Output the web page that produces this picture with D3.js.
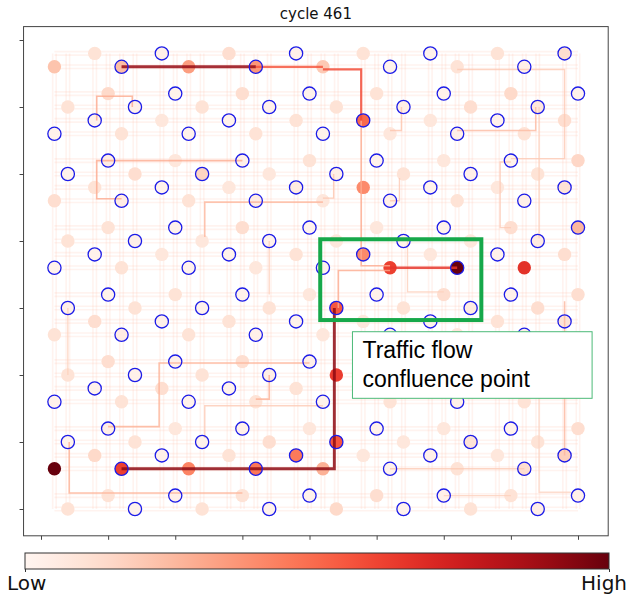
<!DOCTYPE html>
<html><head><meta charset="utf-8">
<script src="https://cdn.jsdelivr.net/npm/d3@7"></script>
<style>
  body { margin: 0; background: #fff; }
  svg { display: block; }
</style>
</head><body>
<svg id="chart" width="627" height="596"></svg>
<script>
// ---- data -------------------------------------------------------------
const chartTitle = "cycle 461";
const lowLabel = "Low";
const highLabel = "High";
const noteLines = ["Traffic flow", "confluence point"];

// grid rows that carry intersections, and the first column used on each row
const nodeRows     = [1, 2, 4, 5, 6, 7, 9, 10, 11, 12, 14, 15, 16, 17, 19, 20, 21, 22, 24, 25, 26, 27, 29, 30, 31, 32, 34, 35];
const nodeColStart = [4, 1, 5, 2, 4, 1, 5, 2, 4, 1, 5, 2, 4, 1, 5, 2, 4, 1, 5, 2, 4, 1, 5, 2, 4, 1, 5, 2];
const nodeColStep = 5;

// 1 = station (ring), 0 = plain intersection
const ringMask = [
  "01010101", "01010101", "01010101", "01010101",
  "10101010", "10101010", "10101010", "10101010",
  "01010101", "01010101", "01010101", "01010101",
  "10101010", "10101010", "10101010", "10101010",
  "01010101", "01010101", "01010101", "01010101",
  "10101010", "10101010", "10101010", "10101010",
  "01010101", "01010101", "01010101", "01010101"
];

// normalised load at each intersection (0 = low, 1 = high)
const nodeLoad = [
  [0.10, 0.03, 0.12, 0.03, 0.10, 0.02, 0.10, 0.12],
  [0.22, 0.24, 0.34, 0.36, 0.20, 0.02, 0.10, 0.03],
  [0.14, 0.02, 0.12, 0.02, 0.10, 0.02, 0.14, 0.02],
  [0.10, 0.03, 0.10, 0.03, 0.10, 0.04, 0.12, 0.08],
  [0.02, 0.08, 0.02, 0.10, 0.50, 0.08, 0.02, 0.12],
  [0.02, 0.10, 0.02, 0.10, 0.02, 0.08, 0.03, 0.10],
  [0.05, 0.08, 0.03, 0.10, 0.02, 0.08, 0.02, 0.15],
  [0.02, 0.12, 0.16, 0.08, 0.04, 0.10, 0.03, 0.10],
  [0.10, 0.02, 0.08, 0.06, 0.40, 0.02, 0.08, 0.10],
  [0.12, 0.05, 0.10, 0.05, 0.08, 0.03, 0.10, 0.03],
  [0.10, 0.02, 0.12, 0.02, 0.08, 0.02, 0.12, 0.26],
  [0.10, 0.03, 0.08, 0.02, 0.08, 0.02, 0.08, 0.06],
  [0.02, 0.08, 0.02, 0.10, 0.40, 0.08, 0.02, 0.12],
  [0.02, 0.10, 0.02, 0.08, 0.02, 0.62, 1.00, 0.66],
  [0.02, 0.10, 0.02, 0.08, 0.02, 0.12, 0.02, 0.12],
  [0.03, 0.10, 0.02, 0.10, 0.55, 0.10, 0.06, 0.12],
  [0.12, 0.03, 0.10, 0.02, 0.08, 0.02, 0.10, 0.10],
  [0.10, 0.05, 0.10, 0.03, 0.08, 0.02, 0.08, 0.03],
  [0.12, 0.03, 0.12, 0.03, 0.08, 0.02, 0.10, 0.03],
  [0.10, 0.03, 0.10, 0.04, 0.63, 0.02, 0.08, 0.08],
  [0.02, 0.12, 0.02, 0.10, 0.02, 0.08, 0.02, 0.10],
  [0.02, 0.10, 0.02, 0.10, 0.02, 0.10, 0.03, 0.10],
  [0.04, 0.08, 0.03, 0.08, 0.02, 0.08, 0.02, 0.12],
  [0.02, 0.10, 0.02, 0.12, 0.55, 0.08, 0.10, 0.10],
  [0.14, 0.03, 0.10, 0.45, 0.08, 0.03, 0.08, 0.18],
  [1.00, 0.62, 0.42, 0.46, 0.28, 0.02, 0.10, 0.12],
  [0.10, 0.03, 0.10, 0.02, 0.12, 0.03, 0.10, 0.03],
  [0.10, 0.02, 0.10, 0.02, 0.14, 0.02, 0.10, 0.04]
];

// vehicle routes: waypoints in grid units [col, row] and their load
const routePaths = [
  [[6, 2], [16, 2]],
  [[16, 2], [21, 2]],
  [[21, 2.2], [23.85, 2.2], [23.85, 6]],
  [[23.85, 6], [23.85, 16.85], [26, 16.85]],
  [[26, 17], [31, 17]],
  [[6, 32], [21.85, 32], [21.85, 20]],
  [[22.15, 20], [22.15, 17.2], [26, 17.2]],
  [[4.15, 6], [4.15, 4.2], [6.8, 4.2], [6.8, 5]],
  [[15, 9], [4.15, 9], [4.15, 11.85], [6, 11.85]],
  [[21, 12.1], [12.2, 12.1], [12.2, 14.7]],
  [[5, 28.85], [8.8, 28.85], [8.8, 24.1], [20, 24.1]],
  [[2.1, 30], [2.1, 33.8], [15, 33.8]],
  [[17, 25], [17, 26.8], [16, 26.8]],
  [[12.2, 29.7], [12.2, 27.3], [21, 27.3]],
  [[2, 20], [2, 25]],
  [[31, 2.2], [39, 2.2], [39, 8.85], [35, 8.85]],
  [[36.85, 5], [36.85, 6.75], [31, 6.75]],
  [[26.85, 5], [26.85, 6.75], [26, 6.75]],
  [[21.8, 10], [21.8, 11.8], [21, 11.8]],
  [[26, 12], [26.7, 12], [26.7, 10.3]],
  [[37.1, 5], [37.1, 14.8]],
  [[35, 9.1], [34.2, 9.1], [34.2, 14], [35, 14]],
  [[39, 19.5], [39, 31]],
  [[26, 32], [36, 32]],
  [[30, 34], [35, 34]],
  [[37.1, 26.5], [37.1, 33.75], [39.5, 33.75]],
  [[17, 15], [17, 19]],
  [[27.3, 15], [27.3, 18.8], [30, 18.8]]
];
const routeLoad = [
  0.90, 0.55, 0.58, 0.30, 0.65, 0.92, 0.30,
  0.30, 0.30, 0.26, 0.28, 0.28, 0.28, 0.20, 0.18,
  0.20, 0.25, 0.22, 0.22, 0.20, 0.18, 0.20, 0.26,
  0.20, 0.18, 0.16, 0.18, 0.18
];

const xTicks = [0, 5, 10, 15, 20, 25, 30, 35, 40];
const yTicks = [0, 5, 10, 15, 20, 25, 30, 35];

// highlighted confluence area, grid units [col0, row0, col1, row1]
const hotspot = [20.8, 14.87, 32.8, 20.9];

// ---- layout -----------------------------------------------------------
const svg = d3.select("#chart");
const x = d3.scaleLinear().domain([0, 40]).range([41, 578]);
const y = d3.scaleLinear().domain([0, 35]).range([40, 509]);
const xlim = [-1.3, 42.25], ylim = [-1, 37];
const frame = { x0: x(xlim[0]), x1: x(xlim[1]), y0: y(ylim[0]), y1: y(ylim[1]) };
const color = d3.interpolateReds;
const routeWidth = d3.scaleLinear().domain([0.15, 0.95]).range([1.3, 3.0]).clamp(true);

// flatten nodes
const nodes = [];
nodeRows.forEach((r, ri) => {
  nodeLoad[ri].forEach((v, k) => {
    nodes.push({ row: r, col: nodeColStart[ri] + k * nodeColStep, load: v, ring: ringMask[ri][k] === "1" });
  });
});
const roadCols = Array.from(new Set(nodes.map(d => d.col))).sort((a, b) => a - b);

// clip region
svg.append("defs").append("clipPath").attr("id", "plotClip")
  .append("rect").attr("x", frame.x0).attr("y", frame.y0)
  .attr("width", frame.x1 - frame.x0).attr("height", frame.y1 - frame.y0);

const plot = svg.append("g").attr("clip-path", "url(#plotClip)");

// faint road mesh (two lanes per road)
const mesh = plot.append("g").attr("stroke", color(0.22)).attr("stroke-opacity", 0.2)
  .attr("stroke-width", 1.6).attr("fill", "none");
[-0.13, 0.13].forEach(off => {
  mesh.selectAll(null).data(nodeRows).join("line")
    .attr("x1", x(1)).attr("x2", x(40))
    .attr("y1", d => y(d + off)).attr("y2", d => y(d + off));
  mesh.selectAll(null).data(roadCols).join("line")
    .attr("y1", y(1)).attr("y2", y(35))
    .attr("x1", d => x(d + off)).attr("x2", d => x(d + off));
});

// intersection fills
plot.append("g").selectAll("circle").data(nodes).join("circle")
  .attr("cx", d => x(d.col)).attr("cy", d => y(d.row))
  .attr("r", 6.7)
  .attr("fill", d => color(d.load));

// routes
const line = d3.line().x(d => x(d[0])).y(d => y(d[1]));
const routes = routePaths.map((p, i) => ({ path: p, load: routeLoad[i] }))
  .sort((a, b) => a.load - b.load);
plot.append("g").attr("fill", "none").attr("stroke-linejoin", "miter")
  .selectAll("path").data(routes).join("path")
  .attr("d", d => line(d.path))
  .attr("stroke", d => color(d.load))
  .attr("stroke-opacity", d => d.load > 0.5 ? 0.85 : 0.8)
  .attr("stroke-width", d => routeWidth(d.load));

// station rings
plot.append("g").selectAll("circle").data(nodes.filter(d => d.ring)).join("circle")
  .attr("cx", d => x(d.col)).attr("cy", d => y(d.row))
  .attr("r", 6.6)
  .attr("fill", "none")
  .attr("stroke", "#1c1ce8")
  .attr("stroke-width", 1.3);

// axes frame and ticks
const axisColor = "#444";
svg.append("rect").attr("x", frame.x0).attr("y", frame.y0)
  .attr("width", frame.x1 - frame.x0).attr("height", frame.y1 - frame.y0)
  .attr("fill", "none").attr("stroke", axisColor).attr("stroke-width", 1);

const gx = svg.append("g").attr("transform", `translate(0,${frame.y1})`)
  .call(d3.axisBottom(x).tickValues(xTicks).tickFormat("").tickSize(4));
const gy = svg.append("g").attr("transform", `translate(${frame.x0},0)`)
  .call(d3.axisLeft(y).tickValues(yTicks).tickFormat("").tickSize(4));
[gx, gy].forEach(g => {
  g.select(".domain").remove();
  g.selectAll(".tick line").attr("stroke", axisColor);
});

// title
svg.append("text").attr("x", (frame.x0 + frame.x1) / 2).attr("y", 19)
  .attr("text-anchor", "middle")
  .attr("font-family", "DejaVu Sans, sans-serif").attr("font-size", 15)
  .attr("fill", "#111").text(chartTitle);

// hotspot highlight
svg.append("rect")
  .attr("x", x(hotspot[0])).attr("y", y(hotspot[1]))
  .attr("width", x(hotspot[2]) - x(hotspot[0])).attr("height", y(hotspot[3]) - y(hotspot[1]))
  .attr("fill", "none").attr("stroke", "#16a84a").attr("stroke-width", 4);

// annotation box
const note = svg.append("g").attr("transform", `translate(${x(23.2)},${y(21.77)})`);
note.append("rect").attr("width", x(41.05) - x(23.2)).attr("height", y(26.74) - y(21.77))
  .attr("fill", "#fff").attr("stroke", "#4cba78").attr("stroke-width", 1);
note.selectAll("text").data(noteLines).join("text")
  .attr("x", 10).attr("y", (d, i) => 26.5 + i * 28.7)
  .attr("font-family", "Liberation Sans, Arial, sans-serif").attr("font-size", 23)
  .attr("fill", "#000").text(d => d);

// colour bar
const cb = { x0: 25, x1: 609, y0: 553, y1: 569 };
const grad = svg.select("defs").append("linearGradient").attr("id", "cbGrad");
d3.range(0, 1.0001, 0.05).forEach(t => {
  grad.append("stop").attr("offset", t).attr("stop-color", color(t));
});
svg.append("rect").attr("x", cb.x0).attr("y", cb.y0)
  .attr("width", cb.x1 - cb.x0).attr("height", cb.y1 - cb.y0)
  .attr("fill", "url(#cbGrad)").attr("stroke", "#333").attr("stroke-width", 1);
const cbScale = d3.scaleLinear().domain([0, 1]).range([cb.x0, cb.x1]);
const gcb = svg.append("g").attr("transform", `translate(0,${cb.y1})`)
  .call(d3.axisBottom(cbScale).tickValues([0, 1]).tickFormat("").tickSize(3));
gcb.select(".domain").remove();
gcb.selectAll(".tick line").attr("stroke", "#333");
svg.append("text").attr("x", 7).attr("y", 590)
  .attr("font-family", "DejaVu Sans, sans-serif").attr("font-size", 20)
  .attr("fill", "#111").text(lowLabel);
svg.append("text").attr("x", 627).attr("y", 590).attr("text-anchor", "end")
  .attr("font-family", "DejaVu Sans, sans-serif").attr("font-size", 20)
  .attr("fill", "#111").text(highLabel);
</script>
</body></html>
